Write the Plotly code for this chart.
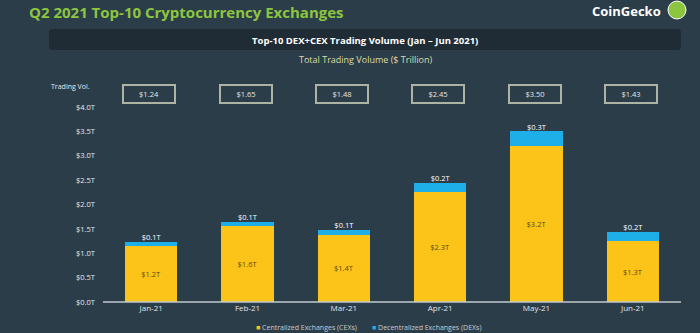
import plotly.graph_objects as go

months = ["Jan-21", "Feb-21", "Mar-21", "Apr-21", "May-21", "Jun-21"]
cex = [1.15, 1.55, 1.38, 2.26, 3.20, 1.25]
dex = [0.09, 0.10, 0.10, 0.19, 0.30, 0.18]
cex_labels = ["$1.2T", "$1.6T", "$1.4T", "$2.3T", "$3.2T", "$1.3T"]
dex_labels = ["$0.1T", "$0.1T", "$0.1T", "$0.2T", "$0.3T", "$0.2T"]
totals = ["$1.24", "$1.65", "$1.48", "$2.45", "$3.50", "$1.43"]
y_ticks = [0, 0.5, 1.0, 1.5, 2.0, 2.5, 3.0, 3.5, 4.0]
y_tick_text = ["$0.0T", "$0.5T", "$1.0T", "$1.5T", "$2.0T", "$2.5T", "$3.0T", "$3.5T", "$4.0T"]

W, H = 700, 333
L, R, T, B = 103, 19, 107, 31
PW, PH = W - L - R, H - T - B

def px(x):
    return (x - L) / PW

def py(y):
    return (H - B - y) / PH

BG = "#2c3d4a"
YEL = "#fcc418"
BLU = "#1eaee8"
FONT = "Open Sans"

fig = go.Figure()
fig.add_trace(go.Bar(
    x=months, y=cex, name="Centralized Exchanges (CEXs)",
    marker=dict(color=YEL, line=dict(width=0)),
    text=cex_labels, textposition="inside", insidetextanchor="middle",
    textfont=dict(color="#5c4a12", size=7.5, family=FONT),
    hoverinfo="skip",
))
fig.add_trace(go.Bar(
    x=months, y=dex, name="Decentralized Exchanges (DEXs)",
    marker=dict(color=BLU, line=dict(width=0)),
    hoverinfo="skip",
))
# DEX labels above stacks
fig.add_trace(go.Scatter(
    x=months, y=[c + d for c, d in zip(cex, dex)], mode="text",
    text=dex_labels, textposition="top center",
    textfont=dict(color="#ffffff", size=7.5, family=FONT),
    hoverinfo="skip", showlegend=False,
))

annotations = []
# total boxes
for m, t in zip(months, totals):
    annotations.append(dict(
        x=m, xref="x", xshift=-2, y=py(84), yref="paper",
        text=t, showarrow=False, width=48, height=14,
        bordercolor="#aeb4a4", borderwidth=2, borderpad=1,
        font=dict(color="#e8e8e0", size=7.5, family=FONT),
    ))

annotations += [
    dict(x=px(27), y=py(0), xref="paper", yref="paper", xanchor="left", yanchor="top",
         text="<b>Q2 2021 Top-10 Cryptocurrency Exchanges</b>", showarrow=False,
         font=dict(color="#8cc63f", size=15, family=FONT)),
    dict(x=px(663), y=py(0), xref="paper", yref="paper", xanchor="right", yanchor="top",
         text="<b>CoinGecko</b>", showarrow=False,
         font=dict(color="#ffffff", size=13, family=FONT)),
    dict(x=px(365), y=py(40), xref="paper", yref="paper", xanchor="center", yanchor="middle",
         text="<b>Top-10 DEX+CEX Trading Volume (Jan – Jun 2021)</b>", showarrow=False,
         font=dict(color="#ffffff", size=9.5, family=FONT)),
    dict(x=px(365), y=py(60), xref="paper", yref="paper", xanchor="center", yanchor="middle",
         text="Total Trading Volume ($ Trillion)", showarrow=False,
         font=dict(color="#dcdca0", size=9, family=FONT)),
    dict(x=px(49), y=py(87), xref="paper", yref="paper", xanchor="left", yanchor="middle",
         text="Trading Vol.", showarrow=False,
         font=dict(color="#e8e8e8", size=7, family=FONT)),
    dict(x=px(254), y=py(327), xref="paper", yref="paper", xanchor="left", yanchor="middle",
         text=f"<span style='color:{YEL}'>■</span> Centralized Exchanges (CEXs)", showarrow=False,
         font=dict(color="#c8ccd0", size=7, family=FONT)),
    dict(x=px(370), y=py(327), xref="paper", yref="paper", xanchor="left", yanchor="middle",
         text=f"<span style='color:{BLU}'>■</span> Decentralized Exchanges (DEXs)", showarrow=False,
         font=dict(color="#c8ccd0", size=7, family=FONT)),
]

# rounded title bar
x0, x1, y0, y1, r = px(49), px(681), py(29), py(50), 4
rx, ry = r / PW, r / PH
path = (f"M {x0+rx},{y0} L {x1-rx},{y0} Q {x1},{y0} {x1},{y0-ry} "
        f"L {x1},{y1+ry} Q {x1},{y1} {x1-rx},{y1} L {x0+rx},{y1} "
        f"Q {x0},{y1} {x0},{y1+ry} L {x0},{y0-ry} Q {x0},{y0} {x0+rx},{y0} Z")
shapes = [
    dict(type="path", xref="paper", yref="paper", path=path,
         fillcolor="#1f2b35", line=dict(width=0), layer="below"),
    dict(type="circle", xref="paper", yref="paper",
         x0=px(668), x1=px(686), y0=py(19), y1=py(1),
         fillcolor="#8cc63f", line=dict(color="#ffffff", width=1)),
    dict(type="line", xref="paper", yref="paper", x0=0, x1=1, y0=0, y1=0,
         line=dict(color="#c0c8cc", width=1.5)),
]

fig.update_layout(
    width=W, height=H, barmode="stack", bargap=0.46,
    paper_bgcolor=BG, plot_bgcolor=BG,
    margin=dict(l=L, r=R, t=T, b=B, pad=0),
    showlegend=False,
    font=dict(family=FONT, color="#e0e4e8", size=9),
    xaxis=dict(showgrid=False, showline=False, zeroline=False, ticks="",
               tickfont=dict(size=8, color="#e0e4e8", family=FONT), fixedrange=True),
    yaxis=dict(range=[0, 4.0], tickvals=y_ticks, ticktext=y_tick_text,
               showgrid=False, zeroline=False, showline=False, ticks="",
               ticklabelstandoff=7,
               tickfont=dict(size=7.5, color="#e8e8e8", family=FONT), fixedrange=True),
    annotations=annotations, shapes=shapes,
)

fig.write_html("out.html")
